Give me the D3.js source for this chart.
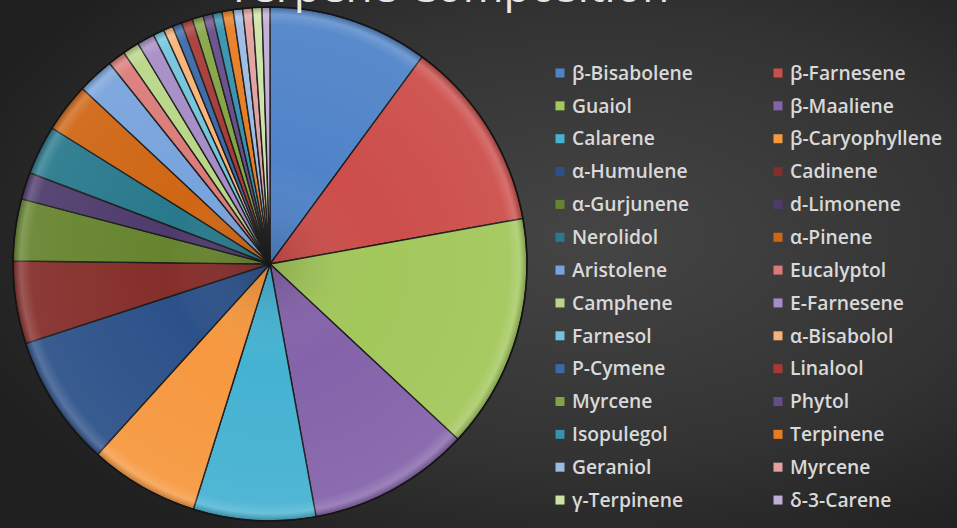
<!DOCTYPE html>
<html>
<head>
<meta charset="utf-8">
<script src="https://cdn.jsdelivr.net/npm/d3@7"></script>
<style>
  body { margin: 0; background: #2c2c2c; overflow: hidden; }
  svg { display: block; }
</style>
</head>
<body>
<svg></svg>
<script>
// Terpene composition pie (relative %)
var terpenes = ['β-Bisabolene', 'β-Farnesene', 'Guaiol', 'β-Maaliene', 'Calarene', 'β-Caryophyllene',
    'α-Humulene', 'Cadinene', 'α-Gurjunene', 'd-Limonene', 'Nerolidol', 'α-Pinene',
    'Aristolene', 'Eucalyptol', 'Camphene', 'E-Farnesene', 'Farnesol', 'α-Bisabolol',
    'P-Cymene', 'Linalool', 'Myrcene', 'Phytol', 'Isopulegol', 'Terpinene',
    'Geraniol', 'Myrcene', 'γ-Terpinene', 'δ-3-Carene'];

var shares = [10.1, 12.1, 14.8, 10.2, 7.7, 6.9,
    8.3, 5.2, 3.9, 1.7, 3.1, 3.1,
    2.3, 1.1, 1.05, 1.1, 0.7, 0.6,
    0.6, 0.7, 0.7, 0.6, 0.6, 0.7,
    0.6, 0.6, 0.6, 0.5];

var colors = ['#4f83c8', '#cc4d49', '#a2c75a', '#8463aa', '#45b2d2', '#f6983f',
    '#2c5189', '#852e2b', '#66842f', '#4e3b6c', '#28798c', '#cf6614',
    '#78a3dc', '#db7b79', '#b9d686', '#a58cc6', '#72c4dc', '#f8b277',
    '#3a69a8', '#a83a36', '#84a443', '#654d8a', '#3592ad', '#e77d22',
    '#9bbbe3', '#e2a1a0', '#cde3a6', '#bfaed6'];

var width = 957, height = 528;
var cx = 270, cy = 264, radius = 257;

var svg = d3.select('svg')
    .attr('width', width)
    .attr('height', height);

var defs = svg.append('defs');

var bg = defs.append('radialGradient')
    .attr('id', 'bg')
    .attr('cx', '62%').attr('cy', '45%').attr('r', '70%');
bg.append('stop').attr('offset', '0%').attr('stop-color', '#454545');
bg.append('stop').attr('offset', '60%').attr('stop-color', '#333333');
bg.append('stop').attr('offset', '100%').attr('stop-color', '#1f1f1f');

svg.append('rect')
    .attr('width', width)
    .attr('height', height)
    .attr('fill', 'url(#bg)');

// soft bevel overlay for the slices
var bevel = defs.append('radialGradient')
    .attr('id', 'bevel')
    .attr('gradientUnits', 'userSpaceOnUse')
    .attr('cx', 0).attr('cy', 0).attr('r', radius);
bevel.append('stop').attr('offset', '0%').attr('stop-color', '#000').attr('stop-opacity', 0.15);
bevel.append('stop').attr('offset', '40%').attr('stop-color', '#fff').attr('stop-opacity', 0.0);
bevel.append('stop').attr('offset', '93%').attr('stop-color', '#fff').attr('stop-opacity', 0.06);
bevel.append('stop').attr('offset', '97%').attr('stop-color', '#fff').attr('stop-opacity', 0.2);
bevel.append('stop').attr('offset', '100%').attr('stop-color', '#000').attr('stop-opacity', 0.25);

var pie = d3.pie()
    .sort(null)
    .value(function(d) { return d; });

var arc = d3.arc()
    .innerRadius(0)
    .outerRadius(radius);

var g = svg.append('g')
    .attr('transform', 'translate(' + cx + ',' + cy + ')');

var arcs = pie(shares);

g.selectAll('path.slice')
    .data(arcs)
    .enter()
    .append('path')
    .attr('class', 'slice')
    .attr('d', arc)
    .attr('fill', function(d, i) { return colors[i]; })
    .attr('stroke', '#1c1c1c')
    .attr('stroke-width', 1.4)
    .attr('stroke-linejoin', 'round');

g.selectAll('path.shade')
    .data(arcs)
    .enter()
    .append('path')
    .attr('class', 'shade')
    .attr('d', arc)
    .attr('fill', 'url(#bevel)')
    .attr('stroke', 'none');

g.append('circle')
    .attr('r', radius)
    .attr('fill', 'none')
    .attr('stroke', '#151515')
    .attr('stroke-width', 1.5);

// title, cut by the top edge like in the picture
svg.append('text')
    .attr('x', 448)
    .attr('y', 2)
    .attr('text-anchor', 'middle')
    .attr('font-family', 'Open Sans, sans-serif')
    .attr('font-size', 44)
    .attr('fill', '#e6e6e6')
    .text('Terpene Composition');

// legend, two columns filled row by row
var rowGap = 32.85, legendTop = 73;
var colX = [560, 778];

var legend = svg.selectAll('g.legend')
    .data(terpenes)
    .enter()
    .append('g')
    .attr('class', 'legend')
    .attr('transform', function(d, i) {
        var x = colX[i % 2];
        var y = legendTop + Math.floor(i / 2) * rowGap;
        return 'translate(' + x + ',' + y + ')';
    });

legend.append('rect')
    .attr('x', -4.5)
    .attr('y', -4.5)
    .attr('width', 9)
    .attr('height', 9)
    .attr('fill', function(d, i) { return colors[i]; });

legend.append('text')
    .attr('x', 12)
    .attr('y', 0)
    .attr('dy', '0.35em')
    .attr('font-family', 'Open Sans, sans-serif')
    .attr('font-weight', 600)
    .attr('font-size', 19.3)
    .attr('fill', '#d9d9d9')
    .text(function(d) { return d; });
</script>
</body>
</html>
